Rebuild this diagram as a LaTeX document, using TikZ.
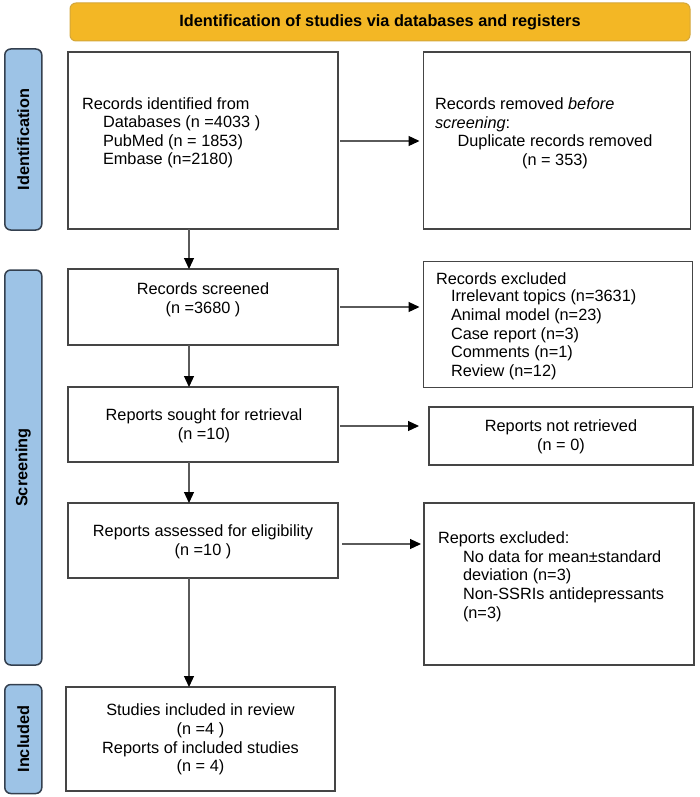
\documentclass[tikz,border=0pt]{standalone}
\usepackage{fontspec}
\setmainfont{Liberation Sans}
\usetikzlibrary{arrows.meta}
\definecolor{hdr}{HTML}{F3B725}
\definecolor{hdrline}{HTML}{D4A73A}
\definecolor{side}{HTML}{9DC3E6}
\definecolor{sideline}{HTML}{34404F}
\definecolor{boxline}{HTML}{454545}
\definecolor{conn}{HTML}{5A5A5A}
\begin{document}
\begin{tikzpicture}[x=1pt,y=-1pt,
  every node/.style={font=\fontsize{16.3}{18.7}\selectfont, inner sep=0pt, outer sep=0pt},
  box/.style={draw=boxline, line width=1.3pt, rectangle, fill=white},
  sidebar/.style={draw=sideline, line width=1.5pt, fill=side, rounded corners=6pt, rectangle, minimum width=37pt},
  sidetext/.style={rotate=90, font=\fontsize{16.3}{18.7}\selectfont\bfseries},
  flow/.style={draw=conn, line width=1.2pt, -{Triangle[length=11pt,width=10pt,color=black]}},
  txt/.style={align=left, anchor=west},
  ctxt/.style={align=center, anchor=center}]
\useasboundingbox (0,0) rectangle (699,797);

% header
\node[draw=hdrline, line width=1pt, fill=hdr, rounded corners=6pt, minimum width=620pt, minimum height=38pt,
      font=\fontsize{16.3}{18.7}\selectfont\bfseries] (hdr) at (380,22) {Identification of studies via databases and registers};

% side bars
\node[sidebar, minimum height=181pt] (sid) at (23.3,139.5) {};
\node[sidetext] (sidt) at (sid.center) {Identification};
\node[sidebar, minimum height=395pt] (sscr) at (23.3,467.5) {};
\node[sidetext] (sscrt) at (sscr.center) {Screening};
\node[sidebar, minimum height=109pt] (sinc) at (23.3,739) {};
\node[sidetext] (sinct) at (sinc.center) {Included};

% boxes
\node[box, minimum width=270pt, minimum height=177pt] (b1) at (203,140.5) {};
\node[box, minimum width=267pt, minimum height=177pt] (b2) at (557,140.5) {};
\node[box, minimum width=270pt, minimum height=76pt] (scr) at (203,307) {};
\node[box, minimum width=269pt, minimum height=126pt] (excl) at (558,324.5) {};
\node[box, minimum width=270pt, minimum height=75pt] (sought) at (203,424.5) {};
\node[box, minimum width=264pt, minimum height=58pt] (nr) at (561,436) {};
\node[box, minimum width=270pt, minimum height=75pt] (assess) at (203,540.5) {};
\node[box, minimum width=270pt, minimum height=162pt] (rex) at (559,584) {};
\node[box, minimum width=269pt, minimum height=104pt] (incl) at (200.5,739) {};

% texts
\node[txt] (t1a) at (82,104) {Records identified from};
\node[txt] (t1b) at (103,142) {Databases (n =4033 )\\PubMed (n = 1853)\\Embase (n=2180)};

\node[txt] (t2a) at (435,115) {Records removed \textit{before}\\\textit{screening}:};
\node[ctxt] (t2b) at (555,151.5) {Duplicate records removed\\(n = 353)};

\node[ctxt] (t3) at (203,300) {Records screened\\(n =3680 )};

\node[txt] (t4a) at (436,279) {Records excluded};
\node[txt] (t4b) at (451,335) {Irrelevant topics (n=3631)\\Animal model (n=23)\\Case report (n=3)\\Comments (n=1)\\Review (n=12)};

\node[ctxt] (t5) at (204,426) {Reports sought for retrieval\\(n =10)};
\node[ctxt] (t6) at (561,437) {Reports not retrieved\\(n = 0)};
\node[ctxt] (t7) at (203,542) {Reports assessed for eligibility\\(n =10 )};

\node[txt] (t8a) at (438,539) {Reports excluded:};
\node[txt] (t8b) at (463,586) {No data for mean±standard\\deviation (n=3)\\Non-SSRIs antidepressants\\(n=3)};

\node[ctxt] (t9) at (200.5,739.5) {Studies included in review\\(n =4 )\\Reports of included studies\\(n = 4)};

% connectors
\coordinate (vx) at (189,0);
\draw[flow] (b1.south -| vx) -- (scr.north -| vx);
\draw[flow] (scr.south -| vx) -- (sought.north -| vx);
\draw[flow] (sought.south -| vx) -- (assess.north -| vx);
\draw[flow] (assess.south -| vx) -- (incl.north -| vx);

\coordinate (hy1) at (0,141);
\coordinate (hy2) at (0,307);
\coordinate (hy3) at (0,426);
\coordinate (hy4) at (0,544);
\draw[flow, shorten <=2pt, shorten >=4pt] (b1.east |- hy1) -- (b2.west |- hy1);
\draw[flow, shorten <=2pt, shorten >=4pt] (scr.east |- hy2) -- (excl.west |- hy2);
\draw[flow, shorten <=2pt, shorten >=10pt] (sought.east |- hy3) -- (nr.west |- hy3);
\draw[flow, shorten <=4pt, shorten >=3pt] (assess.east |- hy4) -- (rex.west |- hy4);
\end{tikzpicture}
\end{document}
